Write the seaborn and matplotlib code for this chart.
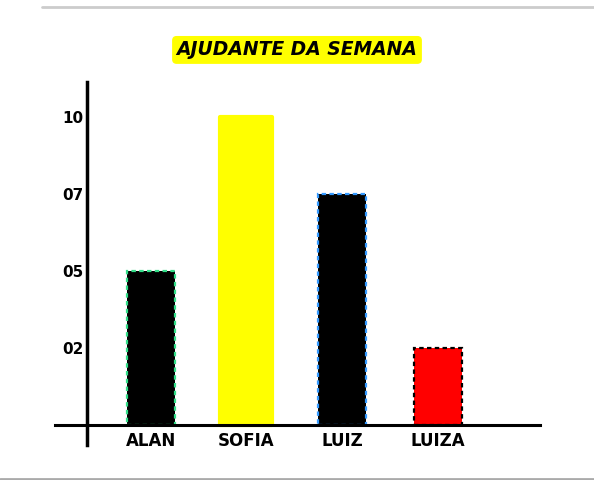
import matplotlib
matplotlib.use("Agg")
import matplotlib.pyplot as plt
from matplotlib.lines import Line2D
import pandas as pd
import seaborn as sns

# data
names = ["ALAN", "SOFIA", "LUIZ", "LUIZA"]
values = [5, 10, 7, 2]
tick_values = [2, 5, 7, 10]
tick_labels = ["02", "05", "07", "10"]
bar_colors = ["#000000", "#ffff00", "#000000", "#ff0000"]
edge_colors = ["#33dd88", "#ffff00", "#3399ff", "#000000"]

# the axis is drawn with evenly spaced tick levels, not a linear scale
df = pd.DataFrame({"name": names, "value": values})
df["level"] = [tick_values.index(v) + 1 for v in values]


def plot_chart(data):
    sns.set_style("white")
    plt.rcParams["font.family"] = ["DejaVu Sans"]
    plt.rcParams["text.color"] = "black"
    plt.rcParams["xtick.color"] = "black"
    plt.rcParams["ytick.color"] = "black"
    fig = plt.figure(figsize=(5.94, 4.8), dpi=100)
    ax = fig.add_axes([0.0926, 0.0729, 0.8165, 0.756])

    sns.barplot(data=data, x="name", y="level", hue="name", palette=bar_colors,
                legend=False, width=0.5, ax=ax, saturation=1)

    for patch, ec, name in zip(ax.patches, edge_colors, names):
        patch.set_edgecolor(ec)
        if name == "SOFIA":
            patch.set_linewidth(3)
            patch.set_joinstyle("round")
            patch.set_width(0.54)
            patch.set_x(patch.get_x() - 0.02)
        else:
            patch.set_linewidth(1.6)
            patch.set_linestyle((0, (2, 1.5)))

    ax.set_xlim(-1.0, 4.07)
    ax.set_ylim(-0.26, 4.45)

    for side in ["top", "right"]:
        ax.spines[side].set_visible(False)
    ax.spines["left"].set_position(("data", -0.67))
    ax.spines["bottom"].set_position(("data", 0))
    ax.spines["left"].set_linewidth(2.5)
    ax.spines["bottom"].set_linewidth(2.2)
    ax.spines["left"].set_color("black")
    ax.spines["bottom"].set_color("black")

    ax.set_yticks(range(1, len(tick_labels) + 1))
    ax.set_yticklabels(tick_labels, fontsize=11, fontweight="heavy", color="black")
    ax.tick_params(axis="y", length=0, pad=2)
    ax.set_xticks(range(len(names)))
    ax.set_xticklabels(names, fontsize=12, fontweight="heavy", color="black")
    ax.tick_params(axis="x", length=0, pad=5)
    ax.set_xlabel("")
    ax.set_ylabel("")

    fig.text(0.5, 0.896, "AJUDANTE DA SEMANA", ha="center", va="center",
             fontsize=13.5, fontweight="heavy", fontstyle="italic", color="black",
             bbox=dict(boxstyle="round,pad=0.2", fc="#ffff00", ec="#ffff00"))

    # faint frame lines of the original screenshot
    fig.add_artist(Line2D([0.07, 1.0], [0.985, 0.985], color="#cccccc", lw=2))
    fig.add_artist(Line2D([0.0, 1.0], [0.003, 0.003], color="#aaaaaa", lw=2))

    fig.savefig("out.png", dpi=100)


plot_chart(df)
